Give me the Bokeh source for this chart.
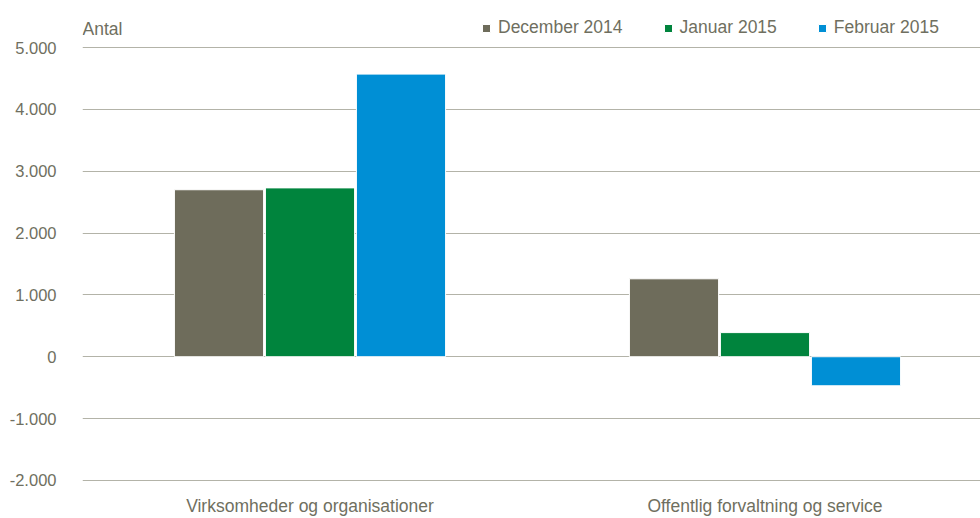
from bokeh.plotting import figure
from bokeh.models import ColumnDataSource, Range1d, FixedTicker, Legend, LegendItem, Label
from bokeh.transform import dodge
from bokeh.embed import file_html
from bokeh.resources import INLINE

categories = ["Virksomheder og organisationer", "Offentlig forvaltning og service"]
series_names = ["December 2014", "Januar 2015", "Februar 2015"]
dec_2014 = [2700, 1260]
jan_2015 = [2730, 390]
feb_2015 = [4570, -470]
y_ticks = [-2000, -1000, 0, 1000, 2000, 3000, 4000, 5000]
y_tick_labels = ["-2.000", "-1.000", "0", "1.000", "2.000", "3.000", "4.000", "5.000"]

colors = ["#6e6c5b", "#00843d", "#008fd5"]
text_color = "#6f6f60"
FONT = "Liberation Sans"
FS = "17.5px"

xpos = [i + 0.5 for i in range(len(categories))]
src = ColumnDataSource(dict(x=xpos, dec=dec_2014, jan=jan_2015, feb=feb_2015))

p = figure(width=980, height=518, output_backend="svg", toolbar_location=None,
           x_range=Range1d(0, 898 / 455), y_range=Range1d(-2050, 5760),
           min_border_left=82, min_border_right=0, min_border_top=0, min_border_bottom=33)
p.outline_line_color = None
p.background_fill_color = "white"
p.border_fill_color = "white"

renderers = []
for col, off, c in zip(["dec", "jan", "feb"], [-0.2, 0.0, 0.2], colors):
    r = p.vbar(x=dodge("x", off, range=p.x_range), top=col, bottom=0, width=0.196,
               source=src, fill_color=c, line_color="white", line_width=1)
    renderers.append(r)

p.xgrid.grid_line_color = None
p.ygrid.grid_line_color = "#b3b3a8"
p.ygrid.grid_line_width = 1
p.ygrid.ticker = FixedTicker(ticks=y_ticks)

p.yaxis.ticker = FixedTicker(ticks=y_ticks)
p.yaxis.major_label_overrides = {t: l for t, l in zip(y_ticks, y_tick_labels)}
p.xaxis.ticker = FixedTicker(ticks=xpos)
p.xaxis.major_label_overrides = {x: c for x, c in zip(xpos, categories)}
for ax in (p.xaxis, p.yaxis):
    ax.axis_line_color = None
    ax.major_tick_line_color = None
    ax.minor_tick_line_color = None
    ax.major_label_text_font = FONT
    ax.major_label_text_font_size = FS
    ax.major_label_text_color = text_color
p.yaxis.major_label_text_font_size = "16.5px"
p.yaxis.major_label_standoff = 20
p.xaxis.major_label_standoff = 6

p.add_layout(Label(x=0, y=5000, y_offset=19, text="Antal", text_font=FONT,
                   text_font_size=FS, text_color=text_color,
                   text_baseline="middle", text_align="left"))

legend = Legend(items=[LegendItem(label=n, renderers=[r]) for n, r in zip(series_names, renderers)],
                orientation="horizontal", location=(399, 445),
                label_text_font=FONT, label_text_font_size=FS, label_text_color=text_color,
                glyph_width=10, glyph_height=10, label_standoff=7, spacing=40,
                border_line_color=None, background_fill_alpha=0, padding=6, margin=0)
p.add_layout(legend)

open("out.html", "w").write(file_html(p, INLINE))
